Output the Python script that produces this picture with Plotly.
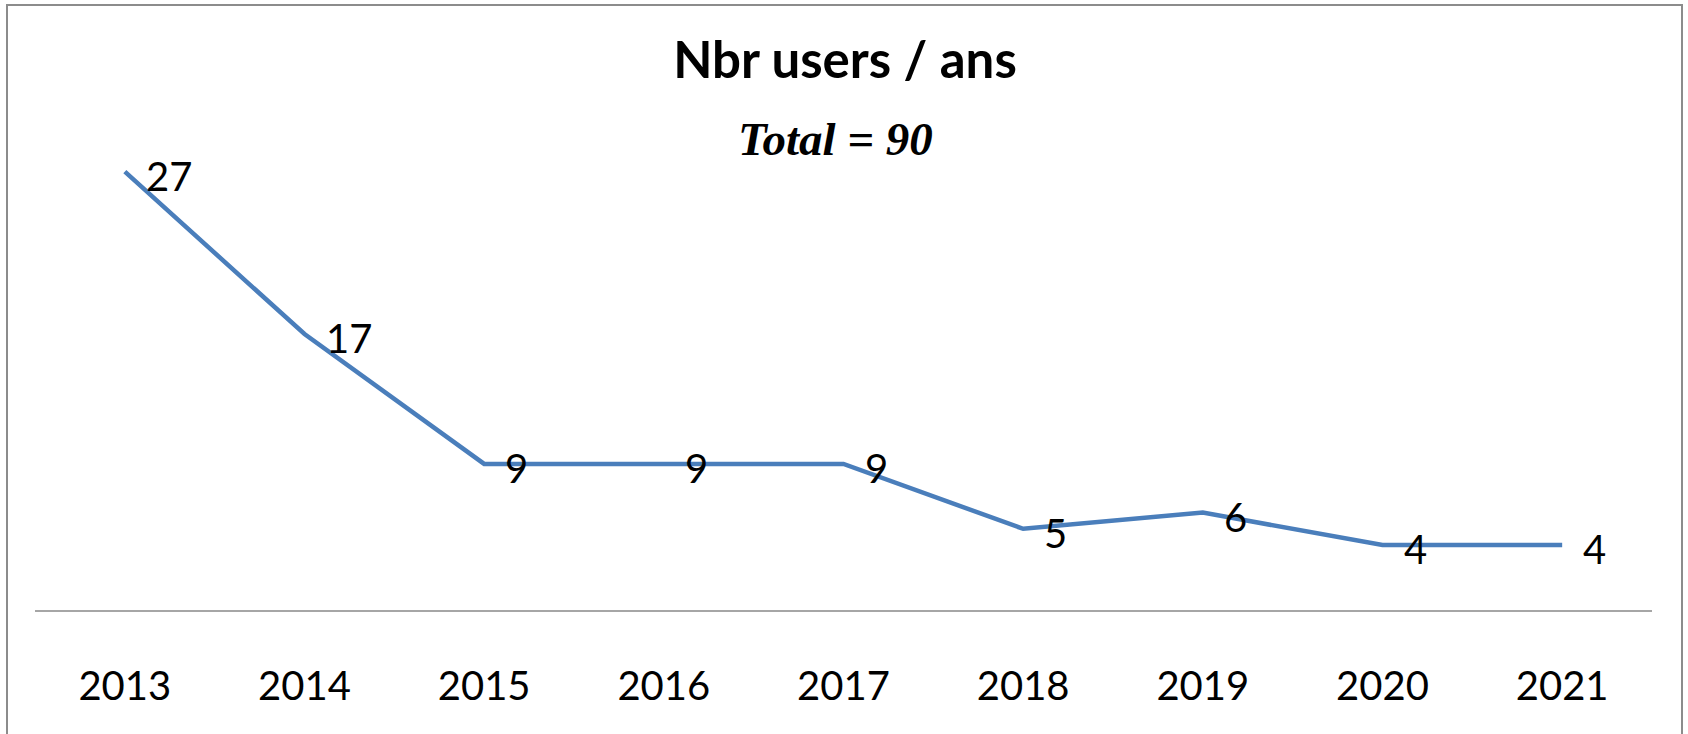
import plotly.graph_objects as go

years = ["2013", "2014", "2015", "2016", "2017", "2018", "2019", "2020", "2021"]
users = [27, 17, 9, 9, 9, 5, 6, 4, 4]
title_text = "Nbr users / ans"
subtitle_text = "Total = 90"

W, H = 1688, 734


def px(x):
    return x / W


def py(y):
    return 1 - y / H


fig = go.Figure()
fig.add_trace(go.Scatter(
    x=years, y=users, mode="lines",
    line=dict(color="#4a7ebb", width=4.5),
    hoverinfo="skip", showlegend=False,
))

for i, v in enumerate(users):
    fig.add_annotation(
        x=i, y=v, xref="x", yref="y", text=str(v), showarrow=False,
        xanchor="left", yanchor="middle", xshift=19, yshift=-4,
        font=dict(family="Lato", size=40, color="black"),
    )

fig.add_annotation(
    x=px(835), y=py(139), xref="paper", yref="paper",
    text="<b><i>" + subtitle_text + "</i></b>", showarrow=False,
    xanchor="center", yanchor="middle",
    font=dict(family="Liberation Serif", size=47, color="black"),
)

# outer chart frame
fig.add_shape(type="rect", xref="paper", yref="paper",
              x0=px(7), x1=px(1682), y0=-0.05, y1=py(5),
              line=dict(color="#8c8c8c", width=2), fillcolor="rgba(0,0,0,0)")

fig.update_layout(
    width=W, height=H,
    margin=dict(l=0, r=0, t=0, b=0, autoexpand=False),
    paper_bgcolor="white", plot_bgcolor="white",
    title=dict(text=title_text, x=px(845), y=py(60),
               xanchor="center", yanchor="middle",
               font=dict(family="Lato", size=51, color="black", weight="bold")),
    xaxis=dict(
        domain=[px(35), px(1652)], type="category",
        range=[-0.5, len(years) - 0.5], autorange=False, automargin=False,
        showline=True, linecolor="#a6a6a6", linewidth=2,
        showgrid=False, zeroline=False, ticks="",
        tickfont=dict(family="Lato", size=40, color="black"),
        ticklabelstandoff=40,
    ),
    yaxis=dict(
        domain=[py(610), py(123)], range=[0, 30], autorange=False,
        automargin=False,
        showline=False, showgrid=False, zeroline=False,
        showticklabels=False, ticks="",
    ),
)

fig.write_html(
    "out.html",
    config={"displayModeBar": False},
    post_script="document.body.style.margin='0';document.body.style.overflow='hidden';",
)
